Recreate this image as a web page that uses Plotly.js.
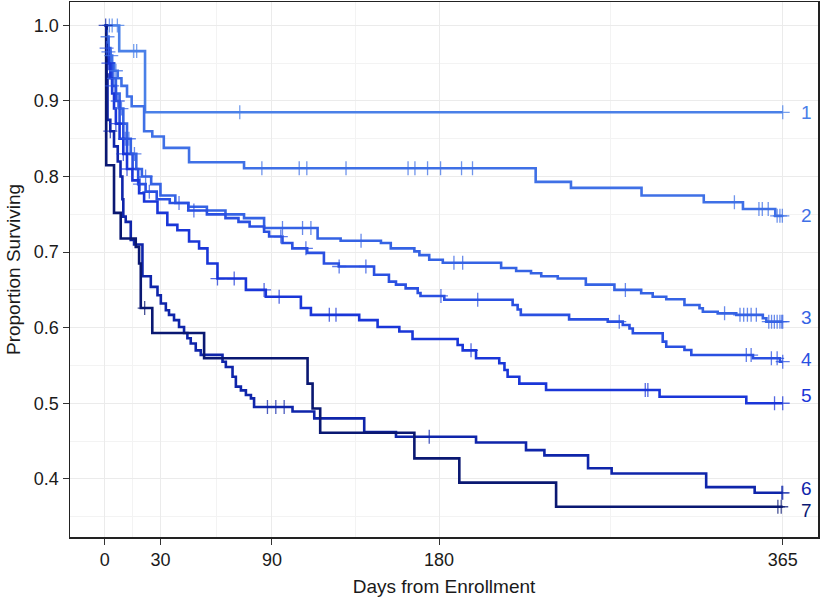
<!DOCTYPE html>
<html>
<head>
<meta charset="utf-8">
<script src="https://cdn.plot.ly/plotly-3.0.1.min.js"></script>
<style>html,body{margin:0;padding:0;background:#fff;}#chart{width:820px;height:602px;}</style>
</head>
<body>
<div id="chart"></div>
<script>
// ---- data (days of event, survival after event, censor days) ----
const groupNames = ['1','2','3','4','5','6','7'];
const groupColors = ['#4a80e8','#3f70e6','#3563e4','#2a50e1','#1a36d8','#0f25aa','#0a1872'];
const labelY = [0.885, 0.748, 0.613, 0.558, 0.510, 0.387, 0.358];

const days1 = [7.8, 21.7];
const surv1 = [0.966, 0.885];
const cens1 = [2.5, 4, 6.8, 15.6, 17.2, 72.7, 365];

const days2 = [1, 2, 3, 4, 5, 7, 9, 12, 14.5, 21.2, 25.6, 31.8, 45.4, 75, 232, 251, 289, 322.5, 343.6, 361];
const surv2 = [0.985, 0.97, 0.96, 0.95, 0.94, 0.93, 0.92, 0.906, 0.893, 0.860, 0.853, 0.838, 0.819, 0.811, 0.793, 0.785, 0.775, 0.766, 0.757, 0.748];
const cens2 = [1.5, 3.5, 6, 84.6, 104.7, 108.8, 129.9, 163.3, 167.0, 173.8, 180.8, 192.1, 198.0, 339, 352.2, 354, 357.2, 362, 363.5, 364.8];

const days3 = [1, 2, 3, 4, 6, 8, 10, 12, 14, 17, 20, 25, 30, 38, 45, 55, 65, 75, 85.8, 114.6, 127, 148.7, 154, 166.7, 169.4, 174.7, 182, 213.4, 221.5, 229.5, 235, 243.9, 259, 274.4, 288.8, 295, 302.3, 312.1, 320.2, 322, 330, 340, 354.3, 356.2];
const surv3 = [0.985, 0.965, 0.95, 0.93, 0.91, 0.89, 0.87, 0.85, 0.83, 0.81, 0.80, 0.79, 0.775, 0.765, 0.76, 0.755, 0.75, 0.745, 0.732, 0.718, 0.715, 0.712, 0.705, 0.701, 0.696, 0.690, 0.686, 0.679, 0.675, 0.672, 0.668, 0.665, 0.657, 0.650, 0.6455, 0.641, 0.6376, 0.630, 0.6257, 0.621, 0.619, 0.617, 0.6125, 0.608];
const cens3 = [2, 5, 9, 13, 16, 22, 95.7, 106.5, 111, 138, 188, 192.7, 280.3, 333.7, 342, 344, 346, 348, 350.8, 357.5, 359, 360.5, 362, 363.5, 364.5, 365];

const days4 = [1, 2, 4, 6, 8, 10, 12, 15, 18, 22, 28, 35, 45, 55, 65, 72, 78, 85.8, 88.5, 95.7, 101, 109, 118, 126, 145, 153, 156.8, 162, 168.5, 170, 182.8, 219.6, 222.3, 224, 250, 270.8, 278.9, 282.5, 284.3, 300.4, 302.3, 312.1, 315.8, 349, 363.5];
const surv4 = [0.97, 0.95, 0.92, 0.90, 0.87, 0.85, 0.83, 0.81, 0.79, 0.78, 0.77, 0.765, 0.755, 0.75, 0.745, 0.74, 0.734, 0.727, 0.7206, 0.712, 0.705, 0.699, 0.685, 0.681, 0.670, 0.661, 0.657, 0.652, 0.646, 0.642, 0.637, 0.630, 0.624, 0.617, 0.611, 0.608, 0.6036, 0.599, 0.5926, 0.5815, 0.5748, 0.5705, 0.5638, 0.5595, 0.555];
const cens4 = [1, 4, 7, 11, 19, 24, 40, 48, 94.8, 108.3, 126.2, 140.6, 181, 200.8, 277, 345.4, 348, 358.9, 362, 365];

const days5 = [1, 2, 3, 4, 5, 6, 8, 10, 12, 14.9, 18.5, 21.2, 28.4, 33.7, 39.1, 45.4, 50.8, 55.3, 60.7, 76, 86.7, 105.6, 111, 137, 146.9, 158.6, 165.7, 190, 192.7, 199.9, 212.4, 215.2, 216.9, 223.2, 237.6, 298.7, 345.4];
const surv5 = [0.97, 0.95, 0.93, 0.91, 0.89, 0.87, 0.85, 0.83, 0.81, 0.795, 0.778, 0.767, 0.752, 0.736, 0.729, 0.714, 0.705, 0.685, 0.665, 0.650, 0.641, 0.626, 0.617, 0.610, 0.601, 0.595, 0.585, 0.577, 0.570, 0.5595, 0.553, 0.544, 0.535, 0.526, 0.5175, 0.5086, 0.500];
const cens5 = [2, 6, 10, 12, 60.7, 69.7, 85.8, 93.9, 120.9, 124.5, 197.2, 291, 292.4, 360.6, 365];

const days6 = [1, 1.5, 3, 5, 7, 8.5, 9.5, 10, 11.3, 14, 15.8, 20.3, 24.8, 28.4, 30.2, 32.9, 34.6, 37.3, 40, 42.7, 44.5, 46.3, 49, 51.7, 63.4, 65.2, 68.8, 70.6, 73.3, 76, 78.7, 80.4, 101.1, 112.8, 139.7, 156.8, 199.9, 226.8, 236.7, 260.2, 272.9, 323.8, 349.9];
const surv6 = [0.935, 0.875, 0.86, 0.84, 0.82, 0.80, 0.77, 0.747, 0.74, 0.716, 0.71, 0.668, 0.654, 0.643, 0.632, 0.623, 0.617, 0.610, 0.601, 0.593, 0.586, 0.579, 0.570, 0.564, 0.555, 0.548, 0.535, 0.522, 0.517, 0.511, 0.5065, 0.495, 0.489, 0.480, 0.462, 0.4556, 0.448, 0.438, 0.431, 0.414, 0.407, 0.389, 0.3815];
const cens6 = [0.5, 3, 87.6, 92.1, 96.6, 174.7, 364.5, 365];

const days7 = [0.8, 5, 8.6, 16.7, 18.5, 19.4, 25.6, 53.5, 109.2, 111.9, 116, 166.7, 190.9, 243];
const surv7 = [0.815, 0.752, 0.718, 0.707, 0.685, 0.626, 0.593, 0.5595, 0.526, 0.493, 0.461, 0.427, 0.395, 0.363];
const cens7 = [21.5, 362.4, 364.2];

const xTickVals = [0, 30, 90, 180, 365];
const xMinorVals = [15, 60, 135, 272.5];
const yTickVals = [0.4, 0.5, 0.6, 0.7, 0.8, 0.9, 1.0];
const yTickText = ['0.4', '0.5', '0.6', '0.7', '0.8', '0.9', '1.0'];
const yMinorVals = [0.35, 0.45, 0.55, 0.65, 0.75, 0.85, 0.95];
const endDay = 365;

// ---- build traces ----
const allDays = [days1, days2, days3, days4, days5, days6, days7];
const allSurv = [surv1, surv2, surv3, surv4, surv5, surv6, surv7];
const allCens = [cens1, cens2, cens3, cens4, cens5, cens6, cens7];

function survAt(days, surv, t) {
  let v = 1;
  for (let i = 0; i < days.length; i++) { if (days[i] <= t) v = surv[i]; else break; }
  return v;
}

const traces = [];
const annotations = [];
for (let g = 0; g < 7; g++) {
  const d = allDays[g], s = allSurv[g];
  const xs = [0].concat(d, [endDay]);
  const ys = [1].concat(s, [s[s.length - 1]]);
  traces.push({
    x: xs, y: ys, type: 'scatter', mode: 'lines',
    line: {shape: 'hv', color: groupColors[g], width: 2.6},
    hoverinfo: 'skip', showlegend: false
  });
}
for (let g = 0; g < 7; g++) {
  const d = allDays[g], s = allSurv[g], c = allCens[g];
  traces.push({
    x: c, y: c.map(t => survAt(d, s, t)), type: 'scatter', mode: 'markers',
    marker: {symbol: 'cross-thin-open', size: 10, color: groupColors[g], opacity: 0.75,
             line: {width: 1.3, color: groupColors[g]}},
    hoverinfo: 'skip', showlegend: false
  });
  annotations.push({
    x: 378, y: labelY[g], xref: 'x', yref: 'y', text: groupNames[g], showarrow: false,
    font: {family: 'Liberation Sans, Arial, sans-serif', size: 19, color: groupColors[g]},
    xanchor: 'center', yanchor: 'middle'
  });
}

const layout = {
  width: 820, height: 602,
  margin: {l: 70, r: 2, t: 2, b: 65},
  paper_bgcolor: '#fff', plot_bgcolor: '#fff',
  font: {family: 'Liberation Sans, Arial, sans-serif', size: 18, color: '#000'},
  xaxis: {
    range: [-18.7, 384], tickmode: 'array', tickvals: xTickVals, ticktext: xTickVals.map(String),
    ticks: 'outside', ticklen: 6, tickwidth: 1, tickcolor: '#333',
    showgrid: true, gridcolor: '#ebebeb', gridwidth: 1, zeroline: false,
    minor: {tickmode: 'array', tickvals: xMinorVals, showgrid: true, gridcolor: '#f3f3f3', gridwidth: 1, ticks: ''},
    showline: true, mirror: true, linecolor: '#222', linewidth: 1.5,
    tickfont: {size: 18, color: '#1a1a1a'},
    title: {text: 'Days from Enrollment', font: {size: 19, color: '#1a1a1a'}, standoff: 10}
  },
  yaxis: {
    range: [0.323, 1.031], tickmode: 'array', tickvals: yTickVals, ticktext: yTickText,
    ticks: 'outside', ticklen: 6, tickwidth: 1, tickcolor: '#333',
    showgrid: true, gridcolor: '#ebebeb', gridwidth: 1, zeroline: false,
    minor: {tickmode: 'array', tickvals: yMinorVals, showgrid: true, gridcolor: '#f3f3f3', gridwidth: 1, ticks: ''},
    showline: true, mirror: true, linecolor: '#222', linewidth: 1.5,
    tickfont: {size: 18, color: '#1a1a1a'},
    title: {text: 'Proportion Surviving', font: {size: 19, color: '#1a1a1a'}, standoff: 8}
  },
  annotations: annotations
};

Plotly.newPlot('chart', traces, layout, {displayModeBar: false, staticPlot: true});
</script>
</body>
</html>
